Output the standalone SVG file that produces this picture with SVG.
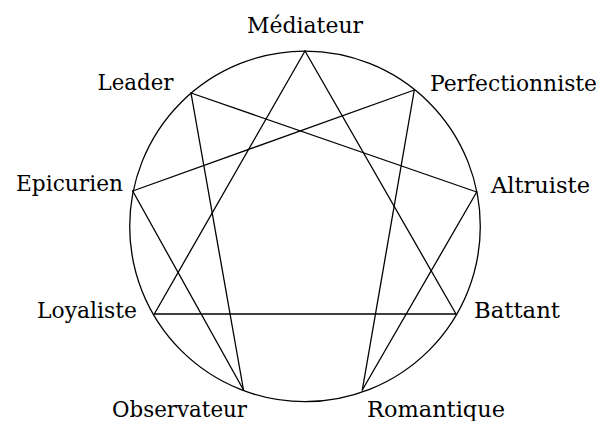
<svg xmlns="http://www.w3.org/2000/svg" width="598" height="421" viewBox="0 0 598 421">
<style>
text{font-family:"DejaVu Serif","Liberation Serif",serif;font-size:21.5px;fill:#000}
.c{fill:none;stroke:#000;stroke-width:1.3}
line{stroke:#000;stroke-width:1.3;stroke-linecap:round}
</style>
<rect width="598" height="421" fill="#fff"/>
<g id="circle"><circle class="c" cx="305" cy="226.4" r="175.3"/></g>
<g id="connectors">
<line x1="305" y1="51" x2="456" y2="314"/>
<line x1="456" y1="314" x2="154.3" y2="314"/>
<line x1="154.3" y1="314" x2="305" y2="51"/>
<line x1="414.3" y1="90" x2="362.3" y2="390"/>
<line x1="362.3" y1="390" x2="476.7" y2="192"/>
<line x1="476.7" y1="192" x2="191" y2="93"/>
<line x1="191" y1="93" x2="243.5" y2="390"/>
<line x1="243.5" y1="390" x2="132.7" y2="191"/>
<line x1="132.7" y1="191" x2="414.3" y2="90"/>
</g>
<g id="n9"><text x="247" y="33" textLength="116" lengthAdjust="spacingAndGlyphs">Médiateur</text></g>
<g id="n1"><text x="430" y="91" textLength="167" lengthAdjust="spacingAndGlyphs">Perfectionniste</text></g>
<g id="n2"><text x="491" y="193" textLength="99" lengthAdjust="spacingAndGlyphs">Altruiste</text></g>
<g id="n3"><text x="474" y="318" textLength="86" lengthAdjust="spacingAndGlyphs">Battant</text></g>
<g id="n4"><text x="367" y="416.5" textLength="138" lengthAdjust="spacingAndGlyphs">Romantique</text></g>
<g id="n5"><text x="112" y="416.5" textLength="135" lengthAdjust="spacingAndGlyphs">Observateur</text></g>
<g id="n6"><text x="37" y="318" textLength="100" lengthAdjust="spacingAndGlyphs">Loyaliste</text></g>
<g id="n7"><text x="16" y="191" textLength="107" lengthAdjust="spacingAndGlyphs">Epicurien</text></g>
<g id="n8"><text x="97.5" y="90" textLength="76" lengthAdjust="spacingAndGlyphs">Leader</text></g>
</svg>
